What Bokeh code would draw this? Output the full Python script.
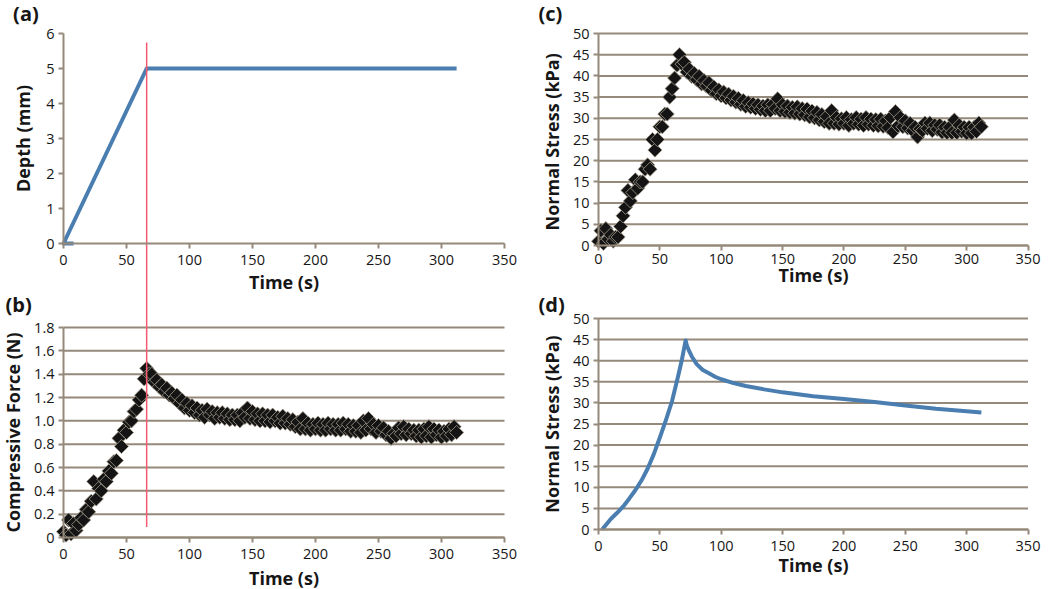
from bokeh.plotting import figure
from bokeh.layouts import row
from bokeh.models import (Range1d, FixedTicker, CustomJSTickFormatter, Label, LinearAxis, Grid)
from bokeh.embed import file_html
from bokeh.resources import INLINE

# ---------------- data ----------------
time_ticks = [0, 50, 100, 150, 200, 250, 300, 350]
depth_ticks = [0, 1, 2, 3, 4, 5, 6]
force_ticks = [0, 0.2, 0.4, 0.6, 0.8, 1.0, 1.2, 1.4, 1.6, 1.8]
stress_ticks = [0, 5, 10, 15, 20, 25, 30, 35, 40, 45, 50]

# (a) indentation depth
depth_time = [8, 0, 66, 312]
depth_mm = [0, 0, 5, 5]

# end of the ramp (red marker line through panels a and b)
ramp_end_time = 66
red_top_depth = 5.74
red_bottom_force = 0.09

# measurement times (s)
meas_time = [0, 2, 4, 6, 8, 10, 12, 14, 16, 18,
             20, 22, 24, 26, 28, 30, 32, 34, 36, 38,
             40, 42, 44, 46, 48, 50, 52, 54, 56, 58,
             60, 62, 64, 66,
             68, 70, 72, 74, 76, 78, 80, 82, 84, 86,
             88, 90, 92, 94, 96, 98, 100, 102, 104, 106,
             108, 110, 112, 114, 116, 118, 120, 122, 124, 126,
             128, 130, 132, 134, 136, 138, 140, 142, 144, 146,
             148, 150, 152, 154, 156, 158, 160, 162, 164, 166,
             168, 170, 172, 174, 176, 178, 180, 182, 184, 186,
             188, 190, 192, 194, 196, 198, 200, 202, 204, 206,
             208, 210, 212, 214, 216, 218, 220, 222, 224, 226,
             228, 230, 232, 234, 236, 238, 240, 242, 244, 246,
             248, 250, 252, 254, 256, 258, 260, 262, 264, 266,
             268, 270, 272, 274, 276, 278, 280, 282, 284, 286,
             288, 290, 292, 294, 296, 298, 300, 302, 304, 306,
             308, 310, 312]

# (b) measured compressive force (N)
force_N = [0.05, 0.02, 0.15, 0.03, 0.12, 0.06, 0.11, 0.17, 0.15, 0.24,
           0.22, 0.31, 0.48, 0.33, 0.42, 0.40, 0.50, 0.48, 0.57, 0.55,
           0.65, 0.66, 0.85, 0.78, 0.92, 0.90, 0.99, 1.00, 1.08, 1.10,
           1.18, 1.22, 1.36, 1.45,
           1.40, 1.40, 1.33, 1.35, 1.29, 1.31, 1.25, 1.28, 1.22, 1.24,
           1.19, 1.22, 1.15, 1.18, 1.11, 1.15, 1.09, 1.13, 1.07, 1.11,
           1.05, 1.09, 1.03, 1.10, 1.05, 1.08, 1.02, 1.07, 1.03, 1.07,
           1.02, 1.06, 1.01, 1.05, 1.01, 1.05, 1.00, 1.07, 1.03, 1.11,
           1.02, 1.08, 1.01, 1.06, 1.00, 1.06, 1.00, 1.05, 0.99, 1.05,
           1.00, 1.03, 0.98, 1.04, 0.98, 1.02, 0.97, 1.01, 0.95, 0.99,
           0.93, 1.02, 0.93, 0.98, 0.92, 0.97, 0.93, 0.98, 0.92, 0.97,
           0.92, 0.98, 0.93, 0.97, 0.92, 0.97, 0.92, 0.98, 0.93, 0.97,
           0.91, 0.96, 0.91, 0.96, 0.90, 1.00, 0.92, 1.02, 0.93, 0.97,
           0.90, 0.96, 0.91, 0.94, 0.88, 0.91, 0.85, 0.89, 0.87, 0.94,
           0.89, 0.95, 0.88, 0.93, 0.89, 0.92, 0.87, 0.92, 0.86, 0.93,
           0.87, 0.95, 0.86, 0.93, 0.88, 0.92, 0.86, 0.91, 0.87, 0.93,
           0.88, 0.95, 0.90]

# (c) measured normal stress (kPa)
stress_meas_kPa = [1, 3.5, 0.5, 4, 1.5, 2.5, 1, 2, 2, 4.5,
                   7, 9, 13, 10.5, 12.5, 15.5, 13.5, 15, 15, 18,
                   19, 18, 25, 22.5, 25, 28, 28, 31, 31, 35,
                   37, 39.5, 42.5, 45,
                   42.8, 43.2, 40.9, 41.6, 39.9, 40.6, 39.1, 39.9, 38.1, 38.9,
                   37.6, 38.4, 36.6, 37.4, 35.8, 36.7, 35.3, 36.2, 34.8, 35.7,
                   34.3, 35.2, 33.8, 34.7, 33.3, 34.2, 32.8, 33.7, 32.6, 33.4,
                   32.3, 33.2, 32.1, 32.9, 31.8, 33.2, 31.8, 33.3, 32.3, 34.6,
                   31.8, 33.2, 31.6, 32.9, 31.4, 32.6, 31.2, 32.7, 31.0, 32.3,
                   30.8, 32.2, 30.3, 31.7, 30.1, 31.4, 29.6, 30.9, 29.2, 30.4,
                   28.8, 31.8, 28.8, 30.2, 28.6, 29.9, 28.8, 30.2, 28.3, 29.7,
                   28.8, 30.2, 28.6, 29.8, 28.3, 30.2, 28.6, 29.8, 28.3, 29.7,
                   28.2, 29.8, 28.1, 29.4, 27.8, 30.2, 26.8, 31.6, 28.2, 30.2,
                   28.0, 29.4, 27.7, 28.8, 27.1, 27.9, 25.6, 27.5, 27.1, 28.9,
                   27.6, 28.9, 27.1, 28.4, 27.4, 28.4, 26.7, 27.9, 26.6, 27.9,
                   26.6, 29.6, 26.6, 28.4, 26.9, 27.9, 26.5, 27.9, 26.5, 27.9,
                   26.9, 28.9, 28.0]

# (d) model normal stress (kPa)
model_time = [3, 10, 15, 20, 25, 30, 35, 40, 45, 50, 55, 60, 65, 68, 71,
              72, 74, 76, 80, 85, 90, 95, 100, 110, 120, 135, 150, 175, 200, 225, 250, 275, 300, 312]
model_stress_kPa = [0, 2.5, 3.9, 5.4, 7.3, 9.3, 11.6, 14.4, 17.8, 21.8, 26.0, 30.5, 36.5, 40.3, 44.8,
                    43.6, 42.2, 41.0, 39.2, 37.8, 37.0, 36.2, 35.6, 34.7, 34.0, 33.2, 32.5, 31.6, 30.9,
                    30.2, 29.4, 28.6, 28.0, 27.7]

# ---------------- styling ----------------
FONT = "Open Sans"
AXIS_COLOR = "#95897b"
BLUE = "#4a7eb0"
RED = "#f55a6e"
TEXT = "#161616"
MARK_FILL = "#141414"
MARK_LINE = "#a39b8b"
DIAMOND = dict(marker="square", angle=0.785398, size=10,
               fill_color=MARK_FILL, line_color=MARK_LINE, line_width=0.8)


def style_axis(ax, label, standoff, label_gap=4):
    ax.axis_line_color = AXIS_COLOR
    ax.axis_line_width = 2
    ax.major_tick_line_color = AXIS_COLOR
    ax.major_tick_line_width = 2
    ax.major_tick_in = 0
    ax.major_tick_out = 5
    ax.minor_tick_line_color = None
    ax.major_label_text_font = FONT
    ax.major_label_text_font_size = "14.5px"
    ax.major_label_text_color = TEXT
    ax.major_label_standoff = label_gap
    ax.axis_label = label
    ax.axis_label_text_font = FONT
    ax.axis_label_text_font_size = "18px"
    ax.axis_label_text_font_style = "bold"
    ax.axis_label_text_color = TEXT
    ax.axis_label_standoff = standoff


def pix_range(v0, p0, v1, p1, total):
    """Range whose values v0, v1 land at pixel offsets p0, p1 of a span of `total` px."""
    k = (p1 - p0) / (v1 - v0)
    a = v0 - p0 / k
    b = v0 + (total - p0) / k
    return Range1d(min(a, b), max(a, b))


def remap(v, r_from, r_to):
    f = (v - r_from.start) / (r_from.end - r_from.start)
    return r_to.start + f * (r_to.end - r_to.start)


def bare_figure(w, h, x_range, y_range):
    p = figure(width=w, height=h, x_range=x_range, y_range=y_range,
               x_axis_location=None, y_axis_location=None,
               output_backend="svg", toolbar_location=None,
               min_border_left=0, min_border_right=0, min_border_top=0, min_border_bottom=0)
    p.outline_line_color = None
    p.center = [r for r in p.center if not isinstance(r, Grid)]
    return p


def add_axes(p, y_range_name, yticks, ylabel, y_standoff, x_standoff, formatter=None, x_label_gap=6):
    kw = {} if y_range_name is None else {"y_range_name": y_range_name}
    ax = LinearAxis(fixed_location=time_ticks[0], bounds=(yticks[0], yticks[-1]),
                    ticker=FixedTicker(ticks=yticks), **kw)
    if formatter is not None:
        ax.formatter = formatter
    style_axis(ax, ylabel, y_standoff)
    p.add_layout(ax, "left")
    ax = LinearAxis(fixed_location=yticks[0], bounds=(time_ticks[0], time_ticks[-1]),
                    ticker=FixedTicker(ticks=time_ticks), **kw)
    style_axis(ax, "Time (s)", x_standoff, label_gap=x_label_gap)
    p.add_layout(ax, "below")


def add_grid(p, y_range_name, yticks):
    kw = {} if y_range_name is None else {"y_range_name": y_range_name}
    p.segment(x0=time_ticks[0], x1=time_ticks[-1], y0=yticks, y1=yticks,
              line_color=AXIS_COLOR, line_width=2, level="underlay", **kw)


def panel_label(p, x, y, text, y_range_name=None):
    kw = {} if y_range_name is None else {"y_range_name": y_range_name}
    p.add_layout(Label(x=x, y=y, text=text, text_font=FONT, text_font_size="20px",
                       text_font_style="bold", text_color=TEXT,
                       text_align="left", text_baseline="middle", **kw))


# ---------------- left column: panels (a) and (b) ----------------
LW, LH = 530, 589
x_left = pix_range(time_ticks[0], 63, time_ticks[-1], 504, LW)
y_force = pix_range(force_ticks[-1], 327, force_ticks[0], 537, LH)
y_depth = pix_range(depth_ticks[-1], 33, depth_ticks[0], 243, LH)

pl = bare_figure(LW, LH, x_left, y_force)
pl.extra_y_ranges = {"depth": y_depth}

add_axes(pl, "depth", depth_ticks, "Depth (mm)", 8, 2)
add_grid(pl, None, force_ticks)
add_axes(pl, None, force_ticks, "Compressive Force (N)", 6, 4,
         formatter=CustomJSTickFormatter(code="return tick == 0 ? '0' : tick.toFixed(1);"))

pl.line(depth_time, depth_mm, y_range_name="depth", line_color=BLUE, line_width=4, line_join="round")
pl.scatter(meas_time, force_N, **DIAMOND)
pl.segment(x0=ramp_end_time, x1=ramp_end_time,
           y0=remap(red_top_depth, y_depth, y_force), y1=red_bottom_force,
           line_color=RED, line_width=1.5)

panel_label(pl, -40, 6.57, "(a)", "depth")
panel_label(pl, -46, 2.0, "(b)")

# ---------------- right column: panels (c) and (d) ----------------
RW, RH = 520, 589
x_right = pix_range(time_ticks[0], 68, time_ticks[-1], 497.5, RW)
y_model = pix_range(stress_ticks[-1], 318, stress_ticks[0], 529, RH)
y_meas = pix_range(stress_ticks[-1], 33, stress_ticks[0], 245, RH)

pr = bare_figure(RW, RH, x_right, y_model)
pr.extra_y_ranges = {"meas": y_meas}

add_grid(pr, "meas", stress_ticks)
add_axes(pr, "meas", stress_ticks, "Normal  Stress (kPa)", 6, -4, x_label_gap=3)
add_grid(pr, None, stress_ticks)
add_axes(pr, None, stress_ticks, "Normal Stress (kPa)", 6, -1)

pr.scatter(meas_time, stress_meas_kPa, y_range_name="meas", **DIAMOND)
pr.line(model_time, model_stress_kPa, line_color=BLUE, line_width=4, line_join="round")

panel_label(pr, -48.9, 54.7, "(c)", "meas")
panel_label(pr, -48.9, 53.3, "(d)")

layout = row(pl, pr)
open("out.html", "w").write(file_html(layout, INLINE))
